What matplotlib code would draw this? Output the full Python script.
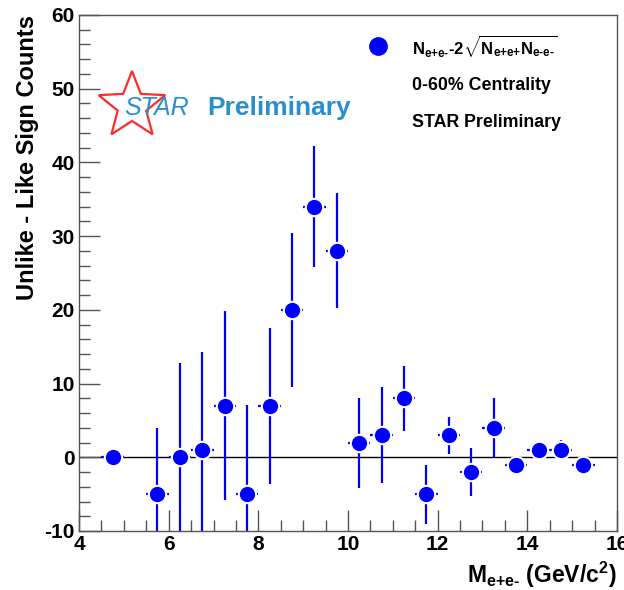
import numpy as np
import matplotlib
matplotlib.use('Agg')
from matplotlib import pyplot as plt
from matplotlib.patches import Polygon
from matplotlib.ticker import MultipleLocator

plt.rcParams['font.family'] = ['Liberation Sans', 'DejaVu Sans']
plt.rcParams['font.weight'] = 'bold'
plt.rcParams['axes.unicode_minus'] = False
plt.rcParams['mathtext.fontset'] = 'custom'
plt.rcParams['mathtext.rm'] = 'Liberation Sans:bold'
plt.rcParams['mathtext.it'] = 'Liberation Sans:bold'
plt.rcParams['mathtext.bf'] = 'Liberation Sans:bold'

# datos
mass = [4.75, 5.75, 6.25, 6.75, 7.25, 7.75, 8.25, 8.75, 9.25, 9.75, 10.25,
        10.75, 11.25, 11.75, 12.25, 12.75, 13.25, 13.75, 14.25, 14.75, 15.25]
counts = [0, -5, 0, 1, 7, -5, 7, 20, 34, 28, 2, 3, 8, -5, 3, -2, 4, -1, 1, 1, -1]
count_err = [0.5, 9.0, 12.8, 13.3, 12.8, 12.1, 10.6, 10.4, 8.2, 7.8, 6.1,
             6.5, 4.4, 4.0, 2.5, 3.3, 4.0, 0.5, 0.8, 1.4, 0.6]
bin_half = [0.25] * len(mass)

xticks = [4, 6, 8, 10, 12, 14, 16]
yticks = [-10, 0, 10, 20, 30, 40, 50, 60]

fig = plt.figure(figsize=(6.24, 5.90), dpi=100)
ax = fig.add_axes([79/624, 1 - 531/590, (617 - 79)/624, (531 - 15)/590])

blue = '#0000ff'
hy = '\u2010'
ax.axhline(0, color='black', lw=1.0, zorder=1)
ax.errorbar(mass, counts, yerr=count_err, xerr=bin_half, fmt='none',
            ecolor=blue, elinewidth=1.6, capsize=0, zorder=2)
ax.plot(mass, counts, 'o', color=blue, ms=12.5, mec='white', mew=1.5, zorder=3)

ax.set_xlim(4, 16)
ax.set_ylim(-10, 60)
ax.set_xticks(xticks)
ax.set_yticks(yticks)
ax.xaxis.set_minor_locator(MultipleLocator(0.5))
ax.yaxis.set_minor_locator(MultipleLocator(2))
ax.tick_params(which='both', direction='in', colors='#555555',
               labelcolor='black', labelsize=15, width=1.0)
ax.tick_params(which='major', length=15)
ax.tick_params(which='minor', length=8)
ax.tick_params(axis='x', pad=3)
ax.tick_params(axis='y', pad=3)
for lbl in ax.get_xticklabels() + ax.get_yticklabels():
    lbl.set_fontweight('bold')
for s in ax.spines.values():
    s.set_color('#555555')
    s.set_linewidth(1.0)

ax.set_ylabel('Unlike - Like Sign Counts', fontsize=17, fontweight='bold',
              loc='top')
ax.yaxis.set_label_coords((39 - 79) / 538, 1.0)
fig.text(617/624, 1 - 575/590,
         r'$\mathrm{M_{e{+}e{' + hy + r'}}}$ (GeV/c$^{2}$)',
         fontsize=16.5, fontweight='bold', ha='right', va='center')

# leyenda
ax.plot([(378 - 79) / 538], [(531 - 46) / 516], 'o', color=blue, ms=12.5,
        transform=ax.transAxes, clip_on=False)
fig.text(412/624, 1 - 46/590,
         r'$\mathrm{N_{e{+}e{' + hy + r'}}}$-2$\sqrt{\mathrm{N_{e{+}e{+}}N_{e{'
         + hy + r'}e{' + hy + r'}}}}$',
         fontsize=12, ha='left', va='center')
fig.text(412/624, 1 - 85/590, '0-60% Centrality', fontsize=12.8,
         fontweight='bold', ha='left', va='center')
fig.text(412/624, 1 - 123/590, 'STAR Preliminary', fontsize=12.8,
         fontweight='bold', ha='left', va='center')

# logo STAR
cx, cy, r_out, r_in = 1.32, (590 - 106) / 100, 0.35, 0.15
ang = np.pi / 2 + np.arange(10) * np.pi / 5
rad = np.where(np.arange(10) % 2 == 0, r_out, r_in)
pts = np.column_stack([cx + rad * np.cos(ang), cy + rad * np.sin(ang)])
fig.patches.append(Polygon(pts, closed=True, fill=False, edgecolor='#ff2a2a',
                           lw=1.6, transform=fig.dpi_scale_trans, figure=fig))
fig.text(124/624, 1 - 108/590, 'STAR', fontsize=18, style='italic',
         fontweight='normal', color='#2a8fcc', ha='left', va='center')
fig.text(207/624, 1 - 108/590, 'Preliminary', fontsize=19,
         fontweight='bold', color='#2a8fcc', ha='left', va='center')

fig.savefig('out.png', dpi=100)
